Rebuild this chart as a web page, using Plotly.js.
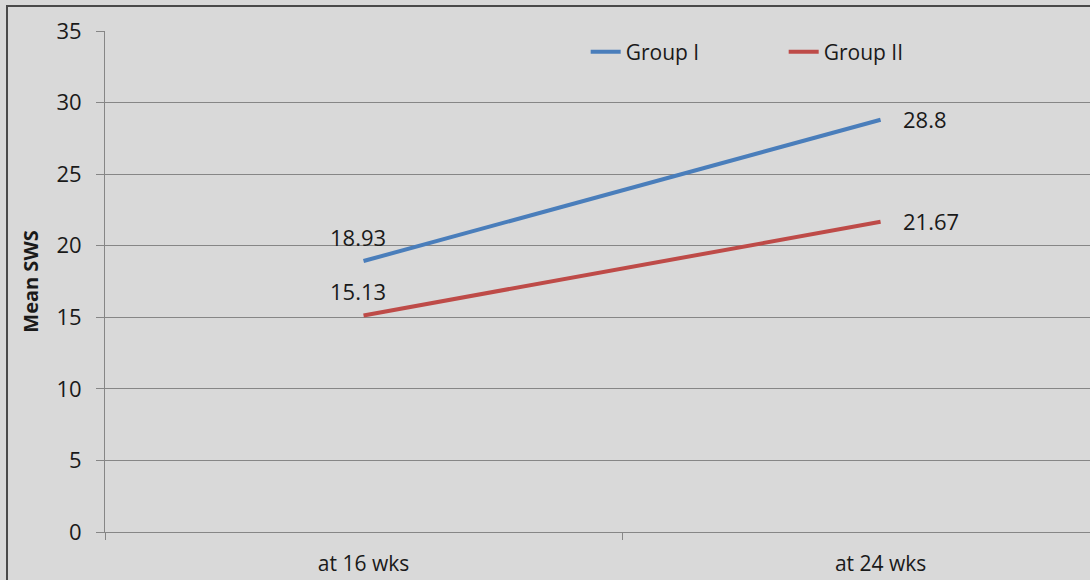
<!DOCTYPE html>
<html>
<head>
<meta charset="utf-8">
<script src="https://cdn.plot.ly/plotly-3.0.1.min.js"></script>
<style>
  html, body { margin: 0; padding: 0; background: #d9d9d9; }
  #chart { position: absolute; left: 0; top: 0; width: 1090px; height: 580px; }
  #frame { position: absolute; left: 6px; top: 5px; width: 1090px; height: 580px;
           border-left: 2px solid #4a4a4a; border-top: 2px solid #4a4a4a; pointer-events: none; }
</style>
</head>
<body>
<div id="chart"></div>
<div id="frame"></div>
<script>
const categories = ["at 16 wks", "at 24 wks"];
const groupI = [18.93, 28.8];
const groupII = [15.13, 21.67];
const seriesNames = ["Group I", "Group II"];
const yTicks = [0, 5, 10, 15, 20, 25, 30, 35];

const FONT = "Open Sans, sans-serif";
const TXT = "#1a1a1a";
const labelFont = { family: FONT, size: 22, color: TXT };

function trace(name, vals, color) {
  return {
    type: "scatter",
    mode: "lines",
    name: name,
    x: categories,
    y: vals,
    line: { color: color, width: 4 },
    hoverinfo: "skip"
  };
}

const data = [
  trace(seriesNames[0], groupI, "#4a7ebb"),
  trace(seriesNames[1], groupII, "#be4b48")
];

// data labels: first point above, second point to the right
const annotations = [];
[groupI, groupII].forEach(vals => {
  annotations.push({
    x: categories[0], y: vals[0], xref: "x", yref: "y",
    text: String(vals[0]), showarrow: false, font: labelFont,
    xanchor: "center", yanchor: "middle", xshift: -6, yshift: 24
  });
  annotations.push({
    x: categories[1], y: vals[1], xref: "x", yref: "y",
    text: String(vals[1]), showarrow: false, font: labelFont,
    xanchor: "left", yanchor: "middle", xshift: 20, yshift: 1
  });
});

const layout = {
  width: 1090,
  height: 580,
  paper_bgcolor: "#d9d9d9",
  plot_bgcolor: "#d9d9d9",
  margin: { l: 105, r: 0, t: 31, b: 48, pad: 0 },
  font: { family: FONT, size: 22, color: TXT },
  showlegend: true,
  legend: {
    orientation: "h",
    x: 0.488, y: 0.958,
    xanchor: "left", yanchor: "middle",
    bgcolor: "rgba(0,0,0,0)",
    font: { family: FONT, size: 21, color: TXT },
    entrywidth: 153,
    itemwidth: 30
  },
  annotations: annotations,
  xaxis: {
    type: "category",
    range: [-0.5, 1.405],
    tickson: "boundaries",
    ticks: "outside",
    ticklen: 7,
    tickcolor: "#868686",
    showgrid: false,
    showline: true,
    linecolor: "#868686",
    linewidth: 1,
    zeroline: false,
    ticklabelstandoff: 13,
    tickfont: { family: FONT, size: 21, color: TXT }
  },
  yaxis: {
    range: [0, 35],
    tickvals: yTicks,
    ticktext: yTicks.map(String),
    ticks: "outside",
    ticklen: 8,
    tickcolor: "#868686",
    showgrid: true,
    gridcolor: "#868686",
    gridwidth: 1,
    showline: true,
    linecolor: "#868686",
    linewidth: 1,
    zeroline: false,
    ticklabelstandoff: 10,
    tickfont: { family: FONT, size: 22, color: TXT },
    title: {
      text: "<b>Mean SWS</b>",
      font: { family: FONT, size: 20, color: TXT },
      standoff: 12
    }
  }
};

Plotly.newPlot("chart", data, layout, { staticPlot: true, displayModeBar: false });
</script>
</body>
</html>
